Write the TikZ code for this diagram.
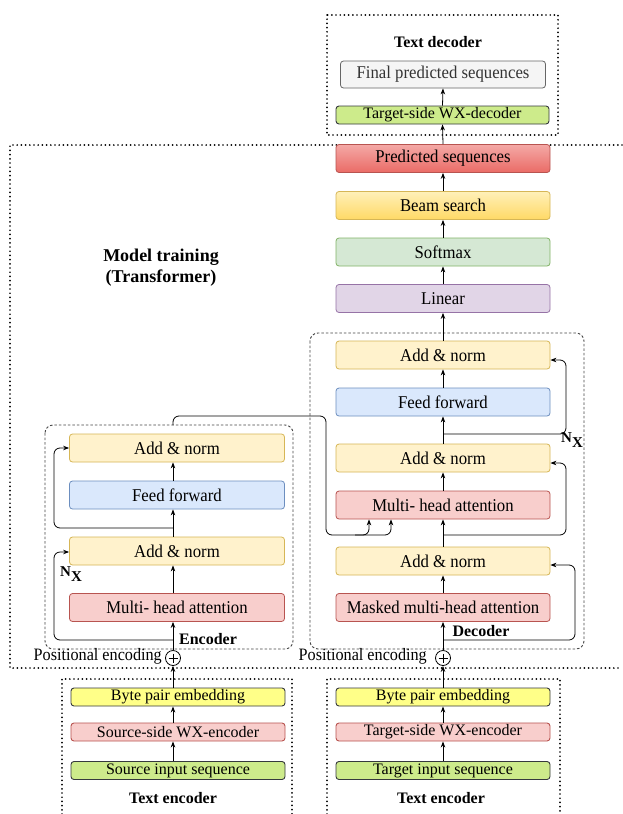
\documentclass[tikz,border=0pt]{standalone}
\usepackage{fontspec}
\setmainfont{Liberation Serif}
\newfontfamily\condfam[FakeStretch=0.93]{Liberation Serif}
\usetikzlibrary{arrows.meta}
\definecolor{ynF}{HTML}{FFF2CC}\definecolor{ynD}{HTML}{D6B656}
\definecolor{bF}{HTML}{DAE8FC}\definecolor{bD}{HTML}{6C8EBF}
\definecolor{rF}{HTML}{F8CECC}\definecolor{rD}{HTML}{B85450}
\definecolor{pF}{HTML}{E1D5E7}\definecolor{pD}{HTML}{9673A6}
\definecolor{gF}{HTML}{D5E8D4}\definecolor{gD}{HTML}{82B366}
\definecolor{gyF}{HTML}{F5F5F5}\definecolor{gyD}{HTML}{666666}\definecolor{gyT}{HTML}{333333}
\definecolor{sgF}{HTML}{CDEB8B}\definecolor{skD}{HTML}{36393D}
\definecolor{byF}{HTML}{FFFF88}
\definecolor{beamT}{HTML}{FFF0B8}\definecolor{beamB}{HTML}{FFD966}
\definecolor{predT}{HTML}{F4A9A6}\definecolor{predB}{HTML}{EA6B66}
\definecolor{dashC}{HTML}{444444}
\tikzset{
  box/.style={draw, rounded corners=3pt, line width=0.8pt, minimum width=214pt,
    minimum height=28pt, inner sep=0pt, text=black, font=\condfam\fontsize{18}{20}\selectfont},
  sbox/.style={box, minimum height=18pt, line width=0.9pt, font=\fontsize{16}{18}\selectfont},
  yn/.style={fill=ynF, draw=ynD},
  bl/.style={fill=bF, draw=bD},
  rd/.style={fill=rF, draw=rD},
  pu/.style={fill=pF, draw=pD},
  gr/.style={fill=gF, draw=gD},
  sg/.style={fill=sgF, draw=skD},
  byb/.style={fill=byF, draw=skD},
  dotbox/.style={line width=1.9pt, dash pattern=on 0pt off 4.2pt, line cap=round},
  dashbox/.style={draw=dashC, line width=0.9pt, dash pattern=on 2.5pt off 2pt, rounded corners=8pt},
  arr/.style={-{Stealth[length=6pt,width=4.5pt]}, line width=0.8pt},
  ln/.style={line width=0.8pt, rounded corners=6pt},
  pcirc/.style={circle, draw, line width=0.8pt, minimum size=15pt, inner sep=0pt},
  ttl/.style={font=\fontsize{16}{19}\selectfont\bfseries},
  nx/.style={font=\fontsize{15}{18}\selectfont\bfseries, inner sep=0pt},
  pel/.style={anchor=east, inner sep=0pt, font=\condfam\fontsize{17.4}{19}\selectfont}
}
\begin{document}
\begin{tikzpicture}[x=1pt,y=-1pt,font=\fontsize{16}{19}\selectfont]
\useasboundingbox (0,0) rectangle (622,814);
\fill[white] (0,0) rectangle (622,814);

% ---- Text decoder
\draw[dotbox] (327,15) rectangle (558,135);
\node[ttl] (tdl) at (438,42) {Text decoder};
\node[box, fill=gyF, draw=gyD, text=gyT, minimum width=205pt, minimum height=27pt] (fps) at (443,74.5) {Final predicted sequences};
\node[sbox, sg, minimum width=213pt] (twd) at (442.5,115) {Target-side WX-decoder};

% ---- Model training frame
\draw[dotbox] (622,145) -- (10,145) -- (10,668) -- (622,668);
\node[align=center, font=\fontsize{18}{21}\selectfont\bfseries] (mt) at (161,267.5) {Model training\\(Transformer)};

\node[box, top color=predT, bottom color=predB, draw=rD] (pred) at (443,158.5) {Predicted sequences};
\node[box, top color=beamT, bottom color=beamB, draw=ynD] (beam) at (443,205.5) {Beam search};
\node[box, gr] (soft) at (443,252) {Softmax};
\node[box, pu] (lin) at (443,298.5) {Linear};

% ---- Decoder
\draw[dashbox] (310,333) rectangle (584,649);
\node[box, yn] (dan1) at (443,355) {Add \& norm};
\node[box, bl] (dff) at (443,402) {Feed forward};
\node[box, yn] (dan2) at (443,458) {Add \& norm};
\node[box, rd] (dmha) at (443,505) {Multi- head attention};
\node[box, yn] (dan3) at (443,561) {Add \& norm};
\node[box, rd] (dmm) at (443,607.5) {Masked multi-head attention};
\node[ttl] (decl) at (481,631) {Decoder};
\node[pcirc] (dpc) at (443,658) {};
\draw[line width=0.8pt] (dpc.center) +(-4.5,0) -- +(4.5,0) (dpc.center) +(0,-4.5) -- +(0,4.5);
\node[pel] (dpe) at (427,656.5) {Positional encoding};
\node[nx] (dnx) at (572,440) {N\raisebox{-5pt}{X}};

% ---- Encoder
\draw[dashbox] (45,425) rectangle (293,649);
\node[box, yn, minimum width=215pt] (ean1) at (177,448) {Add \& norm};
\node[box, bl, minimum width=215pt] (eff) at (177,495) {Feed forward};
\node[box, yn, minimum width=215pt] (ean2) at (177,551) {Add \& norm};
\node[box, rd, minimum width=215pt] (emha) at (177,607.5) {Multi- head attention};
\node[ttl] (encl) at (208,639) {Encoder};
\node[pcirc] (epc) at (173,658) {};
\draw[line width=0.8pt] (epc.center) +(-4.5,0) -- +(4.5,0) (epc.center) +(0,-4.5) -- +(0,4.5);
\node[pel] (epe) at (162,656.5) {Positional encoding};
\node[nx] (enx) at (71,574) {N\raisebox{-5pt}{X}};

% ---- Text encoders
\draw[dotbox] (62,814) -- (62,679) -- (292,679) -- (292,814);
\draw[dotbox] (327,814) -- (327,679) -- (560,679) -- (560,814);
\node[sbox, byb] (bpe1) at (178,697) {Byte pair embedding};
\node[sbox, rd, draw=rD] (sse) at (178,732) {Source-side WX-encoder};
\node[sbox, sg] (sin) at (178,770.5) {Source input sequence};
\node[ttl] (te1) at (173,798) {Text encoder};
\node[sbox, byb] (bpe2) at (443,697) {Byte pair embedding};
\node[sbox, rd, draw=rD] (tse) at (443,732) {Target-side WX-encoder};
\node[sbox, sg] (tin) at (443,770.5) {Target input sequence};
\node[ttl] (te2) at (441,798) {Text encoder};

% ---- Arrows: text encoders
\draw[arr] (sin.north -| epc) -- (sse.south -| epc);
\draw[arr] (sse.north -| epc) -- (bpe1.south -| epc);
\draw[arr] (bpe1.north -| epc) -- (epc.south);
\draw[arr] (tin.north) -- (tse.south);
\draw[arr] (tse.north) -- (bpe2.south);
\draw[arr] (bpe2.north) -- (dpc.south);

% ---- Encoder arrows
\draw[arr] (epc.north) -- (emha.south -| epc);
\draw[arr] (emha.north -| epc) -- (ean2.south -| epc);
\draw[arr] (ean2.north -| epc) -- (eff.south -| epc);
\draw[arr] (eff.north -| epc) -- (ean1.south -| epc);
\coordinate (er1) at (173,528);
\coordinate (er2) at (173,640);
\draw[arr, ln] (er1) -- (54,528) -- (54,448) -- (ean1.west);
\draw[arr, ln] (er2) -- (54,640) -- (54,552) -- ([yshift=-1pt]ean2.west);

% ---- Decoder arrows
\draw[arr] (dpc.north) -- (dmm.south);
\draw[arr] (dmm.north) -- (dan3.south);
\draw[arr] (dan3.north) -- (dmha.south);
\draw[arr] (dmha.north) -- (dan2.south);
\draw[arr] (dan2.north) -- (dff.south);
\draw[arr] (dff.north) -- (dan1.south);
\coordinate (dr1) at (443,640);
\coordinate (dr2) at (443,535);
\coordinate (dr3) at (443,434);
\draw[arr, ln] (dr1) -- (575,640) -- (575,565) -- ([yshift=-4pt]dan3.east);
\draw[arr, ln] (dr2) -- (566,535) -- (566,463) -- ([yshift=-5pt]dan2.east);
\draw[arr, ln] (dr3) -- (566,434) -- (566,360) -- ([yshift=-5pt]dan1.east);

% ---- Encoder to decoder
\coordinate (etop) at (173,425);
\draw[arr, ln] (etop) -- (173,416) -- (326,416) -- (326,535) -- (369,535) -- (dmha.south -| 369,0);
\draw[arr, ln] (355,535) -- (391,535) -- (dmha.south -| 391,0);

% ---- Output column
\draw[arr] (dan1.north) -- (lin.south);
\draw[arr] (lin.north) -- (soft.south);
\draw[arr] (soft.north) -- (beam.south);
\draw[arr] (beam.north) -- (pred.south);
\draw[arr] (pred.north) -- (twd.south);
\draw[arr] (twd.north) -- (fps.south);
\end{tikzpicture}
\end{document}
